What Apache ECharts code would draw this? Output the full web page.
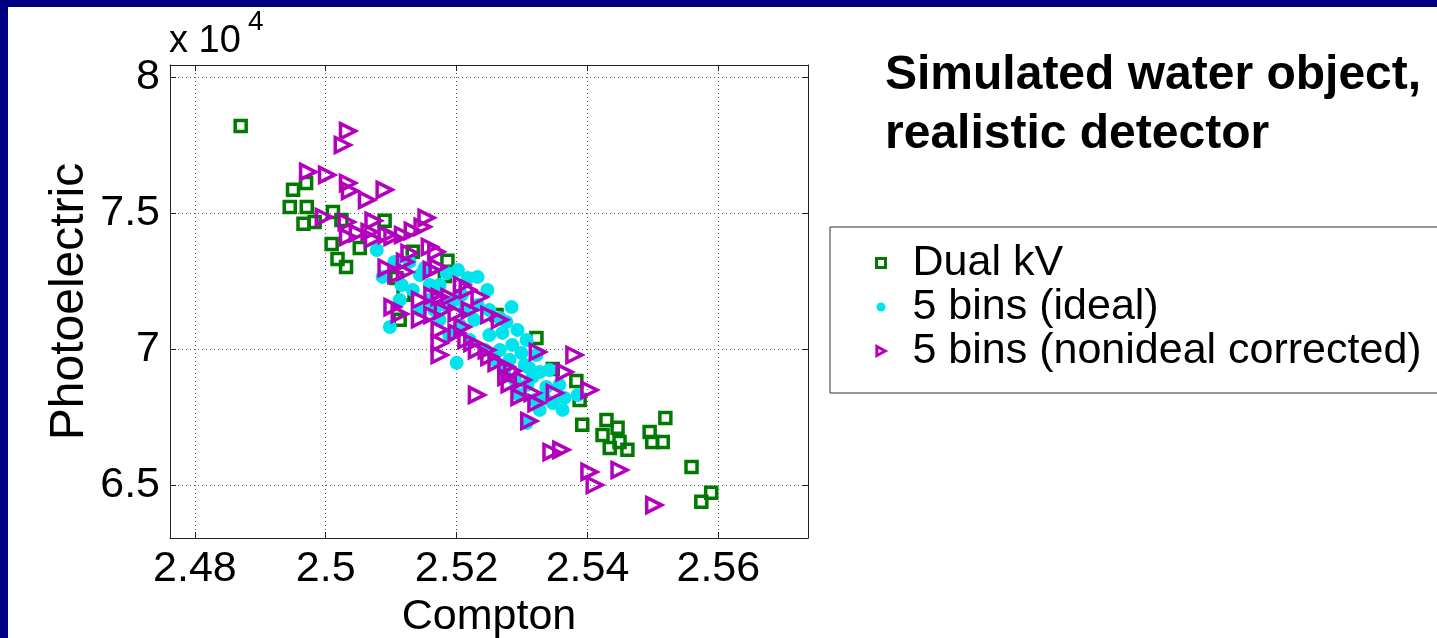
<!DOCTYPE html>
<html>
<head>
<meta charset="utf-8">
<script src="https://cdn.jsdelivr.net/npm/echarts@6/dist/echarts.min.js"></script>
<style>
  html, body { margin: 0; padding: 0; background: #ffffff; overflow: hidden; }
  #wrap { position: relative; width: 1437px; height: 638px; }
  #chart { position: absolute; left: 0; top: 0; width: 1437px; height: 638px; }
  .edge { position: absolute; background: #000084; z-index: 10; }
  #edgeLeft { left: 0; top: 0; width: 8px; height: 638px; }
  #edgeTop { left: 0; top: 0; width: 1437px; height: 7px; }
</style>
</head>
<body>
<div id="wrap">
  <div id="chart"></div>
  <div class="edge" id="edgeLeft"></div>
  <div class="edge" id="edgeTop"></div>
</div>
<script>
// Axis ticks and labels
const xTicks = [2.48, 2.5, 2.52, 2.54, 2.56];
const yTicks = [6.5, 7, 7.5, 8];
const xTickLabels = ['2.48', '2.5', '2.52', '2.54', '2.56'];
const yTickLabels = ['6.5', '7', '7.5', '8'];

// Series names
const seriesNames = ['Dual kV', '5 bins (ideal)', '5 bins (nonideal corrected)'];

// [Compton, Photoelectric (x 10^4)]
const dualKv = [
  [2.4870, 7.820], [2.4950, 7.585], [2.4970, 7.610], [2.4945, 7.522], [2.4971, 7.522],
  [2.4966, 7.460], [2.4983, 7.467], [2.5011, 7.504], [2.5024, 7.474], [2.5090, 7.471],
  [2.5009, 7.386], [2.5018, 7.331], [2.5031, 7.301], [2.5052, 7.371], [2.5108, 7.261],
  [2.5119, 7.199], [2.5186, 7.324], [2.5182, 7.268], [2.5133, 7.357], [2.5113, 7.107],
  [2.5261, 7.125], [2.5322, 7.040], [2.5347, 6.926], [2.5383, 6.882], [2.5388, 6.812],
  [2.5392, 6.721], [2.5429, 6.739], [2.5446, 6.710], [2.5423, 6.684], [2.5434, 6.636],
  [2.5449, 6.658], [2.5461, 6.629], [2.5495, 6.695], [2.5499, 6.658], [2.5515, 6.658],
  [2.5519, 6.746], [2.5559, 6.566], [2.5574, 6.438], [2.5589, 6.471]
];

const binsIdeal = [
  [2.5078, 7.364], [2.5087, 7.265], [2.5105, 7.320], [2.5128, 7.320], [2.5133, 7.217],
  [2.5151, 7.298], [2.5159, 7.180], [2.5174, 7.235], [2.5185, 7.279], [2.5202, 7.290],
  [2.5217, 7.261], [2.5232, 7.265], [2.5247, 7.217], [2.5197, 7.180], [2.5212, 7.143],
  [2.5232, 7.162], [2.5250, 7.143], [2.5266, 7.114], [2.5284, 7.154], [2.5276, 7.099],
  [2.5270, 7.059], [2.5285, 7.015], [2.5299, 6.985], [2.5307, 7.033], [2.5293, 7.070],
  [2.5311, 6.930], [2.5327, 6.915], [2.5337, 6.860], [2.5347, 6.801], [2.5362, 6.776],
  [2.5365, 6.820], [2.5385, 6.831], [2.5357, 6.868], [2.5316, 6.897], [2.5307, 6.728],
  [2.5098, 7.081], [2.5200, 6.949], [2.5144, 7.143], [2.5174, 7.107], [2.5189, 7.051],
  [2.5220, 7.033], [2.5243, 6.996], [2.5258, 6.960], [2.5273, 6.923], [2.5289, 6.886],
  [2.5296, 6.831], [2.5319, 6.812], [2.5327, 6.776], [2.5159, 7.235], [2.5182, 7.162],
  [2.5205, 7.088], [2.5227, 7.107], [2.5250, 7.051], [2.5266, 6.996], [2.5281, 6.960],
  [2.5304, 6.941], [2.5322, 6.978], [2.5342, 6.923], [2.5116, 7.235], [2.5113, 7.180],
  [2.5144, 7.272], [2.5166, 7.143], [2.5208, 7.199], [2.5334, 6.820], [2.5308, 6.868]
];

const binsNonideal = [
  [2.5034, 7.801], [2.5026, 7.750], [2.4973, 7.651], [2.5002, 7.640], [2.5034, 7.610],
  [2.5037, 7.581], [2.5063, 7.548], [2.5090, 7.585], [2.4997, 7.485], [2.5032, 7.467],
  [2.5034, 7.412], [2.5073, 7.471], [2.5067, 7.430], [2.5072, 7.404], [2.5102, 7.412],
  [2.5118, 7.419], [2.5133, 7.434], [2.5154, 7.482], [2.5148, 7.449], [2.5159, 7.375],
  [2.5169, 7.357], [2.5162, 7.290], [2.5171, 7.301], [2.5093, 7.298], [2.5108, 7.272],
  [2.5121, 7.320], [2.5128, 7.353], [2.5102, 7.154], [2.5113, 7.129], [2.5144, 7.110],
  [2.5163, 7.195], [2.5174, 7.191], [2.5189, 7.191], [2.5208, 7.235], [2.5217, 7.217],
  [2.5235, 7.191], [2.5163, 7.125], [2.5179, 7.143], [2.5200, 7.132], [2.5220, 7.143],
  [2.5250, 7.125], [2.5266, 7.107], [2.5174, 7.070], [2.5174, 7.022], [2.5174, 6.978],
  [2.5200, 7.059], [2.5215, 7.033], [2.5224, 7.022], [2.5231, 6.996], [2.5246, 6.996],
  [2.5250, 6.971], [2.5261, 6.949], [2.5276, 6.934], [2.5285, 6.919], [2.5276, 6.897],
  [2.5281, 6.871], [2.5301, 6.886], [2.5296, 6.824], [2.5316, 6.838], [2.5322, 6.801],
  [2.5311, 6.735], [2.5324, 6.989], [2.5380, 6.978], [2.5365, 6.915], [2.5350, 6.838],
  [2.5403, 6.849], [2.5231, 6.831], [2.5345, 6.621], [2.5360, 6.629], [2.5403, 6.548],
  [2.5411, 6.500], [2.5449, 6.555], [2.5502, 6.426], [2.5209, 7.081], [2.5121, 7.283],
  [2.5144, 7.180], [2.5049, 7.426], [2.5093, 7.419]
];

const FONT = "'Liberation Sans', Arial, Helvetica, sans-serif";
const GREEN = '#007a00';
const CYAN = '#00e4ee';
const MAGENTA = '#b400be';
const RIGHT_TRIANGLE = 'path://M0,0L12,6.5L0,13Z';

const xMin = 2.4762, xMax = 2.5737;
const yMin = 6.305, yMax = 8.044;

const chart = echarts.init(document.getElementById('chart'), null, { renderer: 'canvas' });

const frameLine = { show: true, onZero: false, lineStyle: { color: '#222', width: 1 } };
const dotted = { show: true, lineStyle: { color: '#555', width: 1, type: [1, 3] } };

function xAxisDef(position, main) {
  return {
    type: 'value', position: position, min: xMin, max: xMax,
    axisLine: frameLine,
    axisTick: { show: true, inside: true, length: 6, customValues: xTicks, lineStyle: { color: '#222' } },
    axisLabel: {
      show: main, customValues: xTicks, margin: 10,
      formatter: function (v) { return xTickLabels[xTicks.indexOf(v)] ?? String(v); },
      color: '#000', fontFamily: FONT, fontSize: 43
    },
    splitLine: main ? dotted : { show: false },
    name: main ? 'Compton' : '',
    nameLocation: 'middle', nameGap: 43,
    nameTextStyle: { color: '#000', fontFamily: FONT, fontSize: 43 }
  };
}

function yAxisDef(position, main) {
  return {
    type: 'value', position: position, min: yMin, max: yMax,
    axisLine: frameLine,
    axisTick: { show: true, inside: true, length: 6, customValues: yTicks, lineStyle: { color: '#222' } },
    axisLabel: {
      show: main, customValues: yTicks, margin: 10,
      formatter: function (v) { return yTickLabels[yTicks.indexOf(v)] ?? String(v); },
      color: '#000', fontFamily: FONT, fontSize: 43
    },
    splitLine: main ? dotted : { show: false },
    name: main ? 'Photoelectric' : '',
    nameLocation: 'middle', nameGap: 76,
    nameTextStyle: { color: '#000', fontFamily: FONT, fontSize: 48 }
  };
}

const option = {
  backgroundColor: '#ffffff',
  animation: false,
  title: {
    text: 'Simulated water object,\nrealistic detector',
    left: 885, top: 46, padding: 0,
    textStyle: { color: '#000', fontFamily: FONT, fontSize: 48, fontWeight: 'bold', lineHeight: 59 }
  },
  legend: {
    orient: 'vertical', left: 830, top: 227,
    padding: [14, 120, 20, 45],
    itemGap: 0, itemWidth: 9, itemHeight: 9,
    selectedMode: false,
    backgroundColor: '#ffffff', borderColor: '#333', borderWidth: 1,
    textStyle: { color: '#000', fontFamily: FONT, fontSize: 43, lineHeight: 44, padding: [0, 0, 0, 22] },
    data: [
      { name: seriesNames[0], icon: 'rect', itemStyle: { color: 'rgba(0,0,0,0)', borderColor: GREEN, borderWidth: 3 } },
      { name: seriesNames[1], icon: 'circle', itemStyle: { color: CYAN, borderWidth: 0 } },
      { name: seriesNames[2], icon: RIGHT_TRIANGLE, itemStyle: { color: 'rgba(0,0,0,0)', borderColor: MAGENTA, borderWidth: 3 } }
    ]
  },
  grid: { left: 170, right: 629, top: 65, bottom: 100, containLabel: false, outerBoundsMode: 'none' },
  xAxis: [xAxisDef('bottom', true), xAxisDef('top', false)],
  yAxis: [yAxisDef('left', true), yAxisDef('right', false)],
  series: [
    {
      name: seriesNames[0], type: 'scatter', xAxisIndex: 0, yAxisIndex: 0,
      data: dualKv, symbol: 'rect', symbolSize: 11,
      itemStyle: { color: 'rgba(0,0,0,0)', borderColor: GREEN, borderWidth: 3.5, opacity: 1 },
      emphasis: { disabled: true }
    },
    {
      name: seriesNames[1], type: 'scatter', xAxisIndex: 0, yAxisIndex: 0,
      data: binsIdeal, symbol: 'circle', symbolSize: 14,
      itemStyle: { color: CYAN, borderWidth: 0, opacity: 1 },
      emphasis: { disabled: true }
    },
    {
      name: seriesNames[2], type: 'scatter', xAxisIndex: 0, yAxisIndex: 0,
      data: binsNonideal, symbol: RIGHT_TRIANGLE, symbolSize: [15, 15],
      itemStyle: { color: 'rgba(0,0,0,0)', borderColor: MAGENTA, borderWidth: 3.5, opacity: 1 },
      emphasis: { disabled: true }
    }
  ],
  graphic: [
    { type: 'text', x: 169, y: 42, style: { text: 'x 10', font: '38px ' + FONT, fill: '#000', textAlign: 'left', textVerticalAlign: 'middle' } },
    { type: 'text', x: 248, y: 22, style: { text: '4', font: '28px ' + FONT, fill: '#000', textAlign: 'left', textVerticalAlign: 'middle' } }
  ]
};

chart.setOption(option);
</script>
</body>
</html>
